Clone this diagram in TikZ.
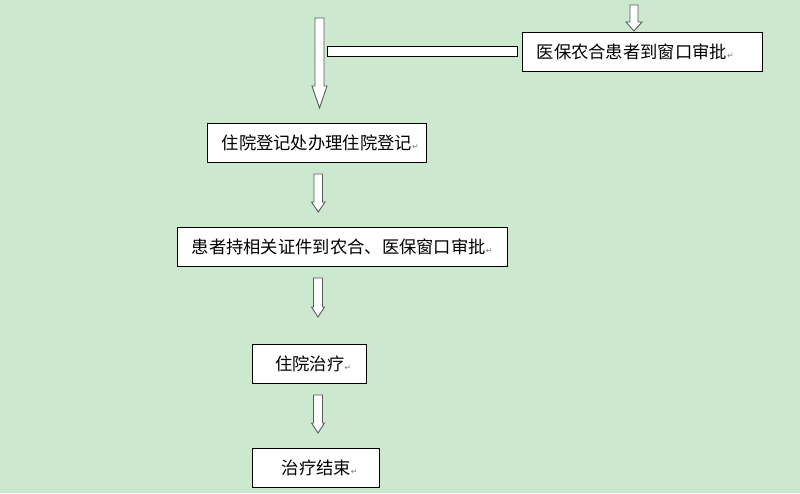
\documentclass[tikz,border=0pt]{standalone}
\usepackage{fontspec}
\newfontfamily\cjk{Noto Sans CJK SC}
\newfontfamily\symfont{DejaVu Sans}
\definecolor{bg}{HTML}{CCE8CF}
\definecolor{arrowgray}{HTML}{5A5A5A}
\definecolor{markgray}{HTML}{808080}
\newcommand\pmark{{\symfont\fontsize{8}{8}\selectfont\textcolor{markgray}{↵}}}
\begin{document}
\begin{tikzpicture}[x=1pt,y=-1pt,
  box/.style={draw=black,line width=1.1pt,fill=white,inner sep=0pt,anchor=north west},
  txt/.style={anchor=west,inner sep=0pt,font=\cjk\fontsize{17.3}{19}\selectfont},
  blockarrow/.style={draw=arrowgray,fill=white,line width=0.9pt,line join=miter},
  barbox/.style={draw=black,fill=white,line width=0.9pt}]
\fill[bg] (0,0) rectangle (800,493);
\useasboundingbox (0,0) rectangle (800,493);

% boxes
\node[box,minimum width=240pt,minimum height=39pt] (b1) at (522,32) {};
\node[box,minimum width=219pt,minimum height=39pt] (b2) at (207,123) {};
\node[box,minimum width=330pt,minimum height=39pt] (b3) at (177,227) {};
\node[box,minimum width=114pt,minimum height=39pt] (b4) at (252,344) {};
\node[box,minimum width=127pt,minimum height=39pt] (b5) at (252,448) {};

% texts
\node[txt] (t1) at (536.5,51.5) {医保农合患者到窗口审批\pmark};
\node[txt] (t2) at (221.5,142.5) {住院登记处办理住院登记\pmark};
\node[txt] (t3) at (191.5,246.5) {患者持相关证件到农合、医保窗口审批\pmark};
\node[txt] (t4) at (275,363.5) {住院治疗\pmark};
\node[txt] (t5) at (281.5,467.5) {治疗结束\pmark};

% horizontal bar
\draw[barbox] (327,46) rectangle (517,56);

% block arrows
\draw[blockarrow] (630,5) -- (638,5) -- (638,22) -- (642,22) -- (634,31) -- (626,22) -- (630,22) -- cycle;
\draw[blockarrow] (315,18) -- (324,18) -- (324,86) -- (327,86) -- (319.5,108) -- (312,86) -- (315,86) -- cycle;
\draw[blockarrow] (314,174) -- (322.5,174) -- (322.5,202) -- (325,202) -- (318.25,212) -- (311.5,202) -- (314,202) -- cycle;
\draw[blockarrow] (313.5,278) -- (322.5,278) -- (322.5,307) -- (324.5,307) -- (318,317) -- (311.5,307) -- (313.5,307) -- cycle;
\draw[blockarrow] (313.5,395) -- (322.5,395) -- (322.5,423) -- (324.5,423) -- (318,433) -- (311.5,423) -- (313.5,423) -- cycle;
\end{tikzpicture}
\end{document}
